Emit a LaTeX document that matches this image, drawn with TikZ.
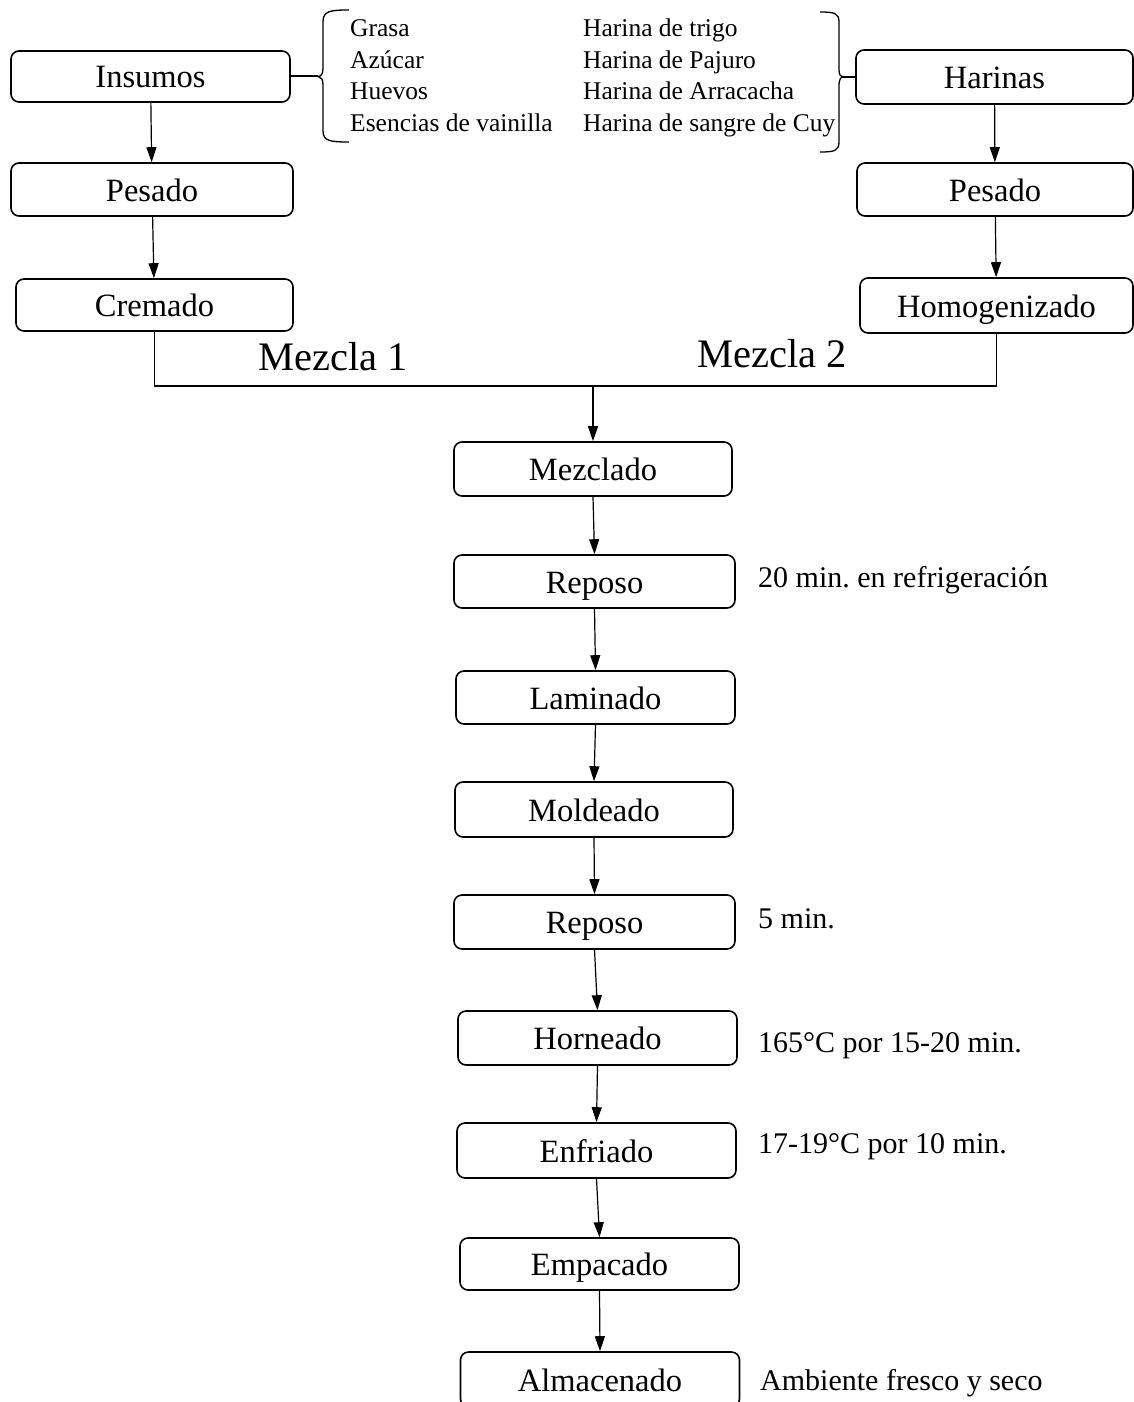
\documentclass[tikz,border=0pt]{standalone}
\usepackage{fontspec}
\setmainfont{Liberation Serif}
\usetikzlibrary{arrows.meta}
\frenchspacing
\tikzset{
  stepbox/.style={draw, line width=1.6pt, rounded corners=8pt, inner sep=0pt,
    minimum width=279pt, minimum height=53pt,
    font=\fontsize{32.5}{38}\selectfont, text height=23pt, text depth=0pt},
  flow/.style={line width=1.2pt, -{Triangle[length=15pt,width=10pt]}},
  plain/.style={line width=1.3pt},
  note/.style={anchor=base west, inner sep=0pt, font=\fontsize{30}{36}\selectfont},
  listtxt/.style={anchor=base west, inner sep=0pt, font=\fontsize{25.5}{30}\selectfont},
  mix/.style={anchor=base west, inner sep=0pt, font=\fontsize{40.5}{48}\selectfont}
}
\begin{document}
\begin{tikzpicture}[x=1pt,y=-1pt]
\useasboundingbox (0,0) rectangle (1134,1402);
% left column
\node[stepbox, minimum width=279pt, minimum height=51pt] (ins) at (150.5,76.5) {Insumos};
\node[stepbox, minimum width=282pt] (pesL) at (152,189.5) {Pesado};
\node[stepbox, minimum width=277pt, minimum height=52pt] (crem) at (154.5,305) {Cremado};
% right column
\node[stepbox, minimum width=277pt, minimum height=54pt] (har) at (994.5,77) {Harinas};
\node[stepbox, minimum width=276pt] (pesR) at (995,189.5) {Pesado};
\node[stepbox, minimum width=273pt, minimum height=55pt] (hom) at (996.5,305.5) {Homogenizado};
% center column
\node[stepbox, minimum width=278pt, minimum height=54pt] (mezc) at (593,469) {Mezclado};
\node[stepbox, minimum width=281pt] (rep1) at (594.5,581.5) {Reposo};
\node[stepbox] (lam) at (595.5,697.5) {Laminado};
\node[stepbox, minimum width=278pt, minimum height=55pt] (mold) at (594,809.5) {Moldeado};
\node[stepbox, minimum width=281pt, minimum height=54pt] (rep2) at (594.5,922) {Reposo};
\node[stepbox, minimum height=54pt] (horn) at (597.5,1038) {Horneado};
\node[stepbox, minimum height=55pt] (enf) at (596.5,1150.5) {Enfriado};
\node[stepbox, minimum height=52pt] (emp) at (599.5,1264) {Empacado};
\node[stepbox, minimum height=55pt] (alm) at (600,1379.5) {Almacenado};
% side notes
\node[note] (n1) at (758,587) {20 min. en refrigeración};
\node[note] (n2) at (758,928) {5 min.};
\node[note] (n3) at (758,1052) {165°C por 15-20 min.};
\node[note] (n4) at (758,1153) {17-19°C por 10 min.};
\node[note] (n5) at (760,1390) {Ambiente fresco y seco};
% ingredient lists
\node[listtxt] (g1) at (350,37) {Grasa};
\node[listtxt] (g2) at (350,68.5) {Azúcar};
\node[listtxt] (g3) at (350,100) {Huevos};
\node[listtxt] (g4) at (350,131.5) {Esencias de vainilla};
\node[listtxt] (h1) at (583,37) {Harina de trigo};
\node[listtxt] (h2) at (583,68.5) {Harina de Pajuro};
\node[listtxt] (h3) at (583,100) {Harina de Arracacha};
\node[listtxt] (h4) at (583,131.5) {Harina de sangre de Cuy};
% braces
\coordinate (lbt) at (318,76.5);
\draw[plain] (349,10) .. controls (330,10) and (323,11) .. (323,22) -- (323,68)
  .. controls (323,74) and (321,76.5) .. (lbt)
  .. controls (321,77) and (323,79) .. (323,85) -- (323,131)
  .. controls (323,141) and (330,142) .. (349,142);
\draw[line width=2pt] (ins.east) -- (lbt);
\coordinate (rbt) at (843,77);
\draw[plain] (820,12) .. controls (834,12) and (839,13) .. (839,22) -- (839,70)
  .. controls (839,75) and (841,77) .. (rbt)
  .. controls (841,77) and (839,79) .. (839,86) -- (839,142)
  .. controls (839,151) and (834,152) .. (820,152);
\draw[plain] (rbt) -- (har.west);
% vertical flows
\draw[flow] (ins) -- (pesL);
\draw[flow] (pesL) -- (crem);
\draw[flow] (har) -- (pesR);
\draw[flow] (pesR) -- (hom);
% merge
\coordinate (jn) at (593,386);
\draw[line width=1.6pt] (crem.south) -- (crem.south |- jn) -- (hom.south |- jn) -- (hom.south);
\draw[flow] (jn) -- (mezc.north);
\node[mix] (m1) at (258,370) {Mezcla 1};
\node[mix] (m2) at (697,367) {Mezcla 2};
% center flows
\draw[flow] (mezc.south) -- (rep1.north);
\draw[flow] (rep1.south) -- (lam.north);
\draw[flow] (lam.south) -- (mold.north);
\draw[flow] (mold.south) -- (rep2.north);
\draw[flow] (rep2.south) -- (horn.north);
\draw[flow] (horn.south) -- (enf.north);
\draw[flow] (enf.south) -- (emp.north);
\draw[flow] (emp.south) -- (alm.north);
\end{tikzpicture}
\end{document}
